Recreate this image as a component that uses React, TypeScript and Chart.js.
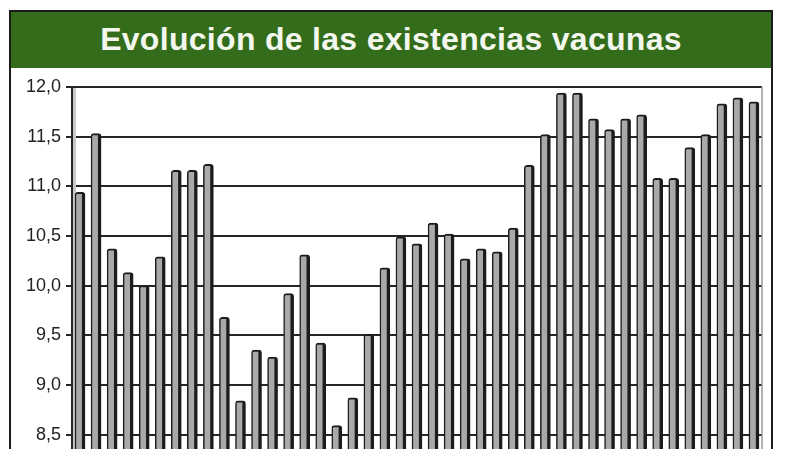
import { useEffect, useRef } from "react";
import { Chart, registerables, type ChartConfiguration, type Plugin } from "chart.js";

Chart.register(...registerables);

// periods (the x labels are cut off in the picture)
const periods = [
  "1", "2", "3", "4", "5", "6", "7", "8", "9", "10",
  "11", "12", "13", "14", "15", "16", "17", "18", "19", "20",
  "21", "22", "23", "24", "25", "26", "27", "28", "29", "30",
  "31", "32", "33", "34", "35", "36", "37", "38", "39", "40",
  "41", "42", "43"
];

// millones de cabezas
const existencias = [
  10.94, 11.53, 10.37, 10.13, 10.0, 10.29, 11.16, 11.16, 11.22, 9.68,
  8.84, 9.35, 9.28, 9.92, 10.31, 9.42, 8.59, 8.87, 9.51, 10.18,
  10.49, 10.42, 10.63, 10.52, 10.27, 10.37, 10.34, 10.58, 11.21, 11.52,
  11.94, 11.94, 11.68, 11.57, 11.68, 11.72, 11.08, 11.08, 11.39, 11.52,
  11.83, 11.89, 11.85
];

const yMin = 8;
const yMax = 12;
const yStep = 0.5;

const GREEN = "#336c1a";
const INK = "#1c1c1c";

// light right-hand frame of the plot and the grey strip along the axis
const plotFrame: Plugin = {
  id: "plotFrame",
  beforeDatasetsDraw(chart) {
    const { ctx, chartArea } = chart;
    ctx.save();
    ctx.strokeStyle = "#9a9a9a";
    ctx.lineWidth = 1.5;
    ctx.beginPath();
    ctx.moveTo(chartArea.right, chartArea.top);
    ctx.lineTo(chartArea.right, chartArea.bottom);
    ctx.stroke();
    ctx.strokeStyle = "#c8c8c8";
    ctx.lineWidth = 3;
    ctx.beginPath();
    ctx.moveTo(chartArea.left + 2.5, chartArea.top + 1);
    ctx.lineTo(chartArea.left + 2.5, chartArea.bottom);
    ctx.stroke();
    ctx.restore();
  }
};

function ExistenciasChart() {
  const ref = useRef<HTMLCanvasElement | null>(null);

  useEffect(() => {
    if (!ref.current) return;
    const config: ChartConfiguration = {
      type: "bar",
      data: {
        labels: periods,
        datasets: [
          {
            label: "Existencias",
            data: existencias,
            backgroundColor: "#a9a9a9",
            borderColor: INK,
            borderWidth: { top: 2, left: 1.5, right: 3.5, bottom: 0 },
            borderRadius: { topLeft: 3, topRight: 3, bottomLeft: 0, bottomRight: 0 },
            borderSkipped: "start",
            barThickness: 10
          }
        ]
      },
      options: {
        animation: false,
        responsive: false,
        maintainAspectRatio: false,
        layout: { padding: { top: 17, right: 28, bottom: 15, left: 0 } },
        plugins: {
          legend: { display: false },
          tooltip: { enabled: false },
          title: { display: false }
        },
        scales: {
          x: {
            display: false,
            offset: true,
            grid: { display: false }
          },
          y: {
            min: yMin,
            max: yMax,
            afterFit: (scale) => {
              scale.width = 72;
            },
            grid: {
              color: "#262626",
              lineWidth: 2,
              tickLength: 6,
              tickColor: "#262626"
            },
            border: { display: true, color: "#262626", width: 2 },
            ticks: {
              stepSize: yStep,
              padding: 5,
              color: "#222",
              font: { family: '"Liberation Sans", Arial, sans-serif', size: 18 },
              callback: (v) => Number(v).toFixed(1).replace(".", ",")
            }
          }
        }
      },
      plugins: [plotFrame]
    };
    const chart = new Chart(ref.current, config);
    return () => chart.destroy();
  }, []);

  return (
    <canvas
      ref={ref}
      width={790}
      height={430}
      style={{ position: "absolute", left: 0, top: 70, width: 790, height: 430 }}
    />
  );
}

export default function App() {
  return (
    <div
      style={{
        position: "fixed",
        left: 0,
        top: 0,
        width: 790,
        height: 449,
        overflow: "hidden",
        background: "#fff"
      }}
    >
      <div
        style={{
          position: "absolute",
          left: 9,
          top: 10,
          width: 760,
          height: 520,
          border: `2.5px solid ${INK}`,
          boxSizing: "content-box"
        }}
      >
        <div
          style={{
            height: 56,
            background: GREEN,
            color: "#f3f7ee",
            fontFamily: '"Liberation Sans", Arial, sans-serif',
            fontWeight: "bold",
            fontSize: 32,
            lineHeight: "54px",
            textAlign: "center",
            letterSpacing: 0.3
          }}
        >
          Evolución de las existencias vacunas
        </div>
      </div>
      <ExistenciasChart />
    </div>
  );
}
